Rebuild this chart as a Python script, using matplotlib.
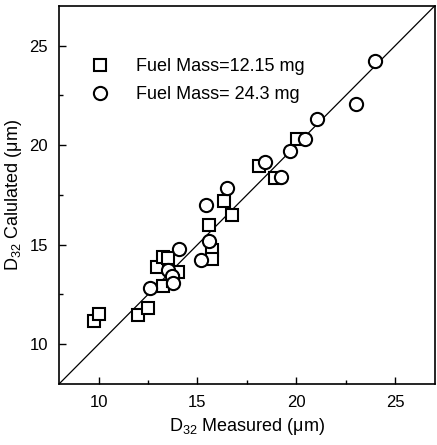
import matplotlib.pyplot as plt
from matplotlib.ticker import MultipleLocator

plt.rcParams['font.family'] = ['Liberation Sans', 'DejaVu Sans']
plt.rcParams['mathtext.default'] = 'regular'

# measured vs calculated D32, fuel mass 12.15 mg (squares)
meas_12 = [9.75, 10.0, 12.0, 12.5, 12.95, 13.25, 13.5, 13.25, 14.0, 13.75,
           15.75, 15.75, 15.6, 16.35, 16.75, 18.1, 18.9, 20.05]
calc_12 = [11.15, 11.5, 11.45, 11.8, 13.9, 14.4, 14.35, 12.9, 13.65, 13.2,
           14.75, 14.3, 16.0, 17.2, 16.5, 18.95, 18.35, 20.3]

# fuel mass 24.3 mg (circles)
meas_24 = [12.6, 13.5, 13.7, 13.75, 14.05, 15.2, 15.6, 15.45, 16.5,
           18.4, 19.2, 19.7, 20.45, 21.05, 23.0, 24.0]
calc_24 = [12.8, 13.75, 13.45, 13.1, 14.8, 14.25, 15.2, 17.0, 17.85,
           19.15, 18.4, 19.7, 20.3, 21.3, 22.05, 24.25]

labels = ["Fuel Mass=12.15 mg", "Fuel Mass= 24.3 mg"]
lims = [8, 27]

fig = plt.figure(figsize=(4.37, 4.45), dpi=100)
ax = fig.add_axes([0.135, 0.137, 0.86, 0.85])

# 1:1 line
ax.plot(lims, lims, color='black', lw=0.9, zorder=1)

ax.plot(meas_12, calc_12, 's', ms=9, mfc='white', mec='black', mew=1.5,
        label=labels[0], zorder=2)
ax.plot(meas_24, calc_24, 'o', ms=9.5, mfc='white', mec='black', mew=1.5,
        label=labels[1], zorder=3)

ax.set_xlim(lims)
ax.set_ylim(lims)
ax.xaxis.set_major_locator(MultipleLocator(5))
ax.xaxis.set_minor_locator(MultipleLocator(2.5))
ax.yaxis.set_major_locator(MultipleLocator(5))
ax.yaxis.set_minor_locator(MultipleLocator(2.5))
ax.tick_params(which='both', direction='in', top=False, right=False,
               labelsize=12, width=1)
ax.tick_params(which='major', length=5, pad=8)
ax.tick_params(which='minor', length=3)
for s in ax.spines.values():
    s.set_linewidth(1.2)

ax.set_xlabel("D$_{32}$ Measured (\u03bcm)", fontsize=13, labelpad=4)
ax.set_ylabel("D$_{32}$ Calulated (\u03bcm)", fontsize=13, labelpad=4)

ax.legend(loc='upper left', bbox_to_anchor=(0.036, 0.885), frameon=False,
          fontsize=13, handletextpad=1.0, labelspacing=0.6, borderpad=0)

fig.savefig("out.png", dpi=100)
